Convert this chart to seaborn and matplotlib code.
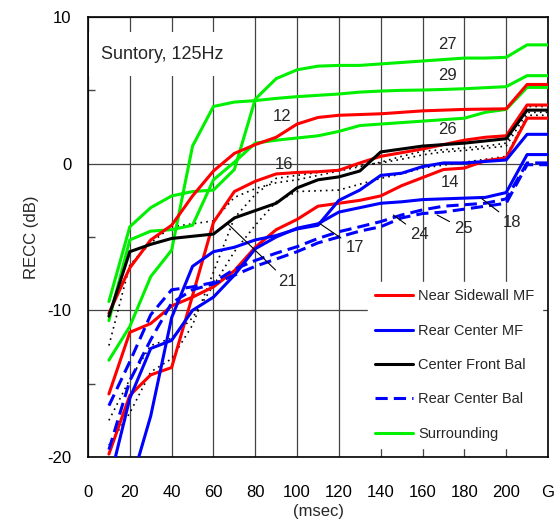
import matplotlib
matplotlib.use("Agg")
import matplotlib.pyplot as plt
import seaborn as sns
import pandas as pd
from matplotlib.lines import Line2D
from matplotlib.patches import Rectangle

# ---------------- data ----------------
msec = [10, 20, 30, 40, 50, 60, 70, 80, 90, 100, 110, 120, 130, 140, 150,
        160, 170, 180, 190, 200, 210, 220]
x_ticks = [0, 20, 40, 60, 80, 100, 120, 140, 160, 180, 200, 220]
x_ticklabels = ["0", "20", "40", "60", "80", "100", "120", "140", "160", "180", "200", "G"]
y_ticks = [-20, -10, 0, 10]

# Surrounding (green)
surr_27 = [-9.4, -4.3, -3.0, -2.2, -1.9, -1.8, -0.4, 4.4, 5.8, 6.4, 6.65, 6.7, 6.7, 6.8,
           6.9, 7.0, 7.1, 7.2, 7.2, 7.25, 8.1, 8.1]
surr_29 = [-13.4, -11.1, -7.7, -5.9, 1.2, 3.9, 4.2, 4.3, 4.45, 4.57, 4.66, 4.75, 4.88, 4.95,
           5.0, 5.02, 5.06, 5.11, 5.18, 5.25, 6.0, 6.0]
surr_26 = [-10.7, -5.2, -4.6, -4.5, -4.2, -1.1, 0.1, 1.4, 1.6, 1.75, 1.9, 2.2, 2.6, 2.7,
           2.8, 2.9, 3.0, 3.1, 3.5, 3.7, 5.2, 5.2]
# Near Sidewall MF (red)
side_12 = [-10.2, -7.1, -5.2, -4.2, -2.2, -0.5, 0.7, 1.3, 1.8, 2.7, 3.15, 3.3, 3.35, 3.4,
           3.5, 3.6, 3.65, 3.7, 3.72, 3.74, 5.4, 5.4]
side_16 = [-19.8, -15.8, -14.4, -13.9, -9.0, -4.0, -1.9, -1.2, -0.7, -0.6, -0.55, -0.45, 0.05,
           0.5, 0.75, 1.0, 1.3, 1.6, 1.8, 1.9, 4.0, 4.0]
side_14 = [-15.7, -11.5, -10.9, -9.7, -9.1, -8.4, -7.3, -5.7, -4.5, -3.8, -2.9, -2.7, -2.5,
           -2.2, -1.5, -0.95, -0.4, -0.3, 0.2, 0.4, 3.1, 3.1]
# Rear Center MF (blue)
rear_17 = [-27.0, -22.1, -17.2, -10.5, -7.0, -6.0, -5.7, -5.2, -4.9, -4.45, -4.2, -2.5, -1.8,
           -0.8, -0.65, -0.2, 0.05, 0.05, 0.15, 0.25, 2.0, 2.0]
rear_18 = [-21.8, -16.0, -12.6, -12.05, -10.0, -9.1, -7.6, -5.8, -5.0, -4.4, -4.1, -3.3, -3.0,
           -2.7, -2.6, -2.45, -2.4, -2.35, -2.3, -1.97, 0.62, 0.62]
# Rear Center Bal (blue dashed)
bal_24 = [-16.5, -13.5, -10.3, -8.6, -8.4, -8.1, -7.2, -6.6, -6.1, -5.66, -5.1, -4.64, -4.3,
          -3.95, -3.5, -3.15, -2.9, -2.8, -2.7, -2.4, 0.05, 0.05]
bal_25 = [-19.5, -14.8, -12.0, -9.5, -8.6, -8.2, -7.6, -7.0, -6.5, -6.0, -5.4, -5.0, -4.6,
          -4.3, -3.7, -3.4, -3.3, -3.1, -2.9, -2.7, -0.07, -0.07]
# Center Front Bal (black)
front_21 = [-10.4, -6.0, -5.5, -5.1, -4.95, -4.8, -3.7, -3.2, -2.7, -1.65, -1.1, -0.9, -0.5,
            0.8, 1.0, 1.2, 1.3, 1.4, 1.55, 1.7, 3.65, 3.65]
# other seats (black dotted)
dot_a = [-12.4, -6.9, -5.4, -4.3, -4.1, -3.9, -2.3, -1.7, -1.3, -1.1, -0.8, -0.5, -0.2, 0.1,
         0.5, 0.85, 0.95, 1.07, 1.2, 1.4, 3.9, 3.9]
dot_b = [-17.5, -14.7, -12.4, -11.9, -10.5, -8.3, -6.0, -4.2, -2.6, -1.9, -1.85, -1.8, -1.4,
         -1.0, -0.7, -0.3, -0.1, 0.1, 0.3, 0.5, 3.3, 3.3]
dot_c = [-19.2, -17.0, -14.2, -13.3, -11.0, -7.4, -3.7, -2.1, -1.0, -0.8, -0.6, -0.4, -0.1,
         0.05, 0.3, 0.6, 0.8, 0.9, 1.05, 1.2, 3.5, 3.5]

# seat-number labels: text, text position, leader start (None = no leader)
seat_labels = ["27", "29", "12", "26", "16", "14", "18", "25", "24", "17", "21"]
seat_text_xy = [(172, 8.15), (172, 6.0), (93, 3.2), (172, 2.3), (93.5, -0.05), (173, -1.3),
                (203, -4.0), (179.5, -4.45), (158.5, -4.8), (127.5, -5.7), (95.5, -8.05)]
seat_leader = [None, None, None, None, None, None, (188, -2.35), (167, -3.5), (146, -3.5),
               (111, -4.1), (66.5, -4.05)]

legend_labels = ["Near Sidewall MF", "Rear Center MF", "Center Front Bal",
                 "Rear Center Bal", "Surrounding"]

RED, BLUE, GREEN, BLACK = "#ff0000", "#0000ff", "#00f000", "#000000"

# ---------------- style ----------------
sns.set_style("white")
plt.rcParams["font.family"] = ["Liberation Sans", "DejaVu Sans"]
plt.rcParams["axes.unicode_minus"] = False

fig = plt.figure(figsize=(5.58, 5.19), dpi=100)
ax = fig.add_axes([88 / 558, 1 - 457 / 519, 460 / 558, 440 / 519])

def draw(vals, color, ls="-", lw=2.2):
    df = pd.DataFrame({"msec": msec, "recc": vals})
    sns.lineplot(data=df, x="msec", y="recc", ax=ax, color=color, linestyle=ls,
                 linewidth=lw, errorbar=None, legend=False, sort=False, zorder=3)

for d in (dot_a, dot_b, dot_c):
    draw(d, BLACK, ls=(0, (1, 2.5)), lw=1.2)
for d in (surr_27, surr_29, surr_26):
    draw(d, GREEN)
for d in (side_12, side_16, side_14):
    draw(d, RED)
draw(front_21, BLACK)
for d in (rear_17, rear_18):
    draw(d, BLUE)
for d in (bal_24, bal_25):
    draw(d, BLUE, ls=(0, (4, 2)))

ax.set_xlim(0, 220)
ax.set_ylim(-20, 10)
ax.set_xticks(x_ticks)
ax.set_xticklabels(x_ticklabels)
ax.set_yticks(y_ticks)
ax.set_yticks([-15, -5, 5], minor=True)
ax.tick_params(axis="both", which="major", length=0, labelsize=12, colors="black")
ax.tick_params(axis="x", which="major", pad=20)
ax.tick_params(axis="y", which="major", pad=12)
ax.tick_params(axis="y", which="minor", direction="in", length=5, width=1, color="#444444",
               left=True)
ax.grid(True, color="#444444", linewidth=0.9)
ax.set_axisbelow(True)
for s in ax.spines.values():
    s.set_color("black")
    s.set_linewidth(1.2)

ax.set_xlabel("(msec)", fontsize=12, labelpad=3)
ax.set_ylabel("RECC (dB)", fontsize=12, labelpad=6)

# title box
ax.add_patch(Rectangle((0.5, 5.95), 70, 3.05, facecolor="white", edgecolor="none", zorder=1.5))
ax.text(6, 7.45, "Suntory, 125Hz", fontsize=13, va="center", ha="left", zorder=4)

# seat labels
for t, txy, lead in zip(seat_labels, seat_text_xy, seat_leader):
    if lead is None:
        ax.text(txy[0], txy[1], t, fontsize=12, ha="center", va="center", zorder=5)
    else:
        ax.annotate(t, xy=lead, xytext=txy, fontsize=12, ha="center", va="center", zorder=5,
                    arrowprops=dict(arrowstyle="-", color="black", lw=0.8,
                                    shrinkA=1, shrinkB=0))

handles = [Line2D([], [], color=RED, lw=2.2),
           Line2D([], [], color=BLUE, lw=2.2),
           Line2D([], [], color=BLACK, lw=2.2),
           Line2D([], [], color=BLUE, lw=2.2, linestyle=(0, (4, 2))),
           Line2D([], [], color=GREEN, lw=2.2)]
leg = ax.legend(handles, legend_labels, loc="lower right", bbox_to_anchor=(0.987, 0.02),
                fontsize=10.5, labelspacing=1.4, handlelength=2.6, handletextpad=0.35,
                borderaxespad=0, borderpad=0.5, frameon=True, fancybox=False,
                framealpha=1, facecolor="white", edgecolor="white")
leg.set_zorder(6)

fig.savefig("out.png", dpi=100)
